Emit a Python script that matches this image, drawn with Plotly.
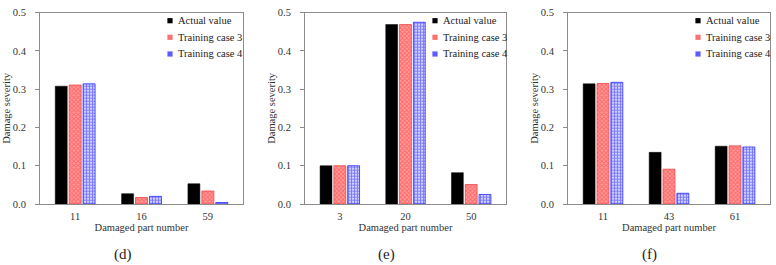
import plotly.graph_objects as go

W, H = 776, 265

# Panel (d)
parts_d = ["11", "16", "59"]
actual_d = [0.308, 0.027, 0.053]
tc3_d = [0.311, 0.017, 0.034]
tc4_d = [0.314, 0.020, 0.004]

# Panel (e)
parts_e = ["3", "20", "50"]
actual_e = [0.100, 0.469, 0.082]
tc3_e = [0.100, 0.469, 0.051]
tc4_e = [0.100, 0.475, 0.025]

# Panel (f)
parts_f = ["11", "43", "61"]
actual_f = [0.314, 0.135, 0.151]
tc3_f = [0.315, 0.091, 0.152]
tc4_f = [0.318, 0.028, 0.149]

series_names = ["Actual value", "Training case 3", "Training case 4"]
panel_labels = ["(d)", "(e)", "(f)"]
y_ticks = [0.0, 0.1, 0.2, 0.3, 0.4, 0.5]

FONT = "Liberation Serif"

panels = [
    (parts_d, [actual_d, tc3_d, tc4_d]),
    (parts_e, [actual_e, tc3_e, tc4_e]),
    (parts_f, [actual_f, tc3_f, tc4_f]),
]

# pixel layout of the three plot areas
x_px = [(40, 243), (305, 506), (568, 770)]
y_top, y_bot = 12.7, 204
legend_text_px = [176, 441, 704]
legend_rows_px = [20.7, 37.3, 54.0]
label_px = [123, 386, 649]

styles = [
    dict(color="black", line=dict(color="black", width=0.5)),
    dict(color="#ff7a7a", line=dict(color="#f04848", width=0.8),
         pattern=dict(shape="x", size=3, fgcolor="#ff3030", bgcolor="#ff9c9c", solidity=0.5)),
    dict(color="#8080ff", line=dict(color="#2a2aff", width=0.8),
         pattern=dict(shape="+", size=3, fgcolor="#1a1aff", bgcolor="#d0d0ff", solidity=0.5)),
]
legend_colors = ["#000000", "#ff6f6f", "#5c5cff"]

fig = go.Figure()
for i, (parts, vals) in enumerate(panels):
    xa = "x" if i == 0 else f"x{i+1}"
    ya = "y" if i == 0 else f"y{i+1}"
    for j, v in enumerate(vals):
        fig.add_trace(go.Bar(
            x=parts, y=v, name=series_names[j], marker=styles[j],
            xaxis=xa, yaxis=ya, showlegend=False,
        ))

axis_common = dict(showline=True, linecolor="#8c8c8c", linewidth=1, mirror=True,
                   showgrid=False, zeroline=False, automargin=False)
layout = dict(
    width=W, height=H, margin=dict(l=0, r=0, t=0, b=0, autoexpand=False),
    paper_bgcolor="white", plot_bgcolor="white",
    barmode="group", bargap=0.37, bargroupgap=0.14,
    font=dict(family=FONT, size=10.5, color="#222222"),
    showlegend=False,
)
ydom = [1 - y_bot / H, 1 - y_top / H]
for i in range(3):
    sx = "" if i == 0 else str(i + 1)
    layout[f"xaxis{sx}"] = dict(
        axis_common, domain=[x_px[i][0] / W, x_px[i][1] / W], anchor=f"y{sx}",
        type="category", range=[-0.53, 2.53], ticks="",
        tickfont=dict(family=FONT, size=10.5, color="#333333"), ticklabelstandoff=2,
        title=dict(text="Damaged part number", standoff=0,
                   font=dict(family=FONT, size=10.5, color="#333333")),
    )
    layout[f"yaxis{sx}"] = dict(
        axis_common, domain=ydom, anchor=f"x{sx}", range=[0, 0.5],
        tickvals=y_ticks, ticktext=[f"{t:.1f}" for t in y_ticks],
        ticks="outside", ticklen=4, tickcolor="#8c8c8c", ticklabelstandoff=7,
        tickfont=dict(family=FONT, size=10.5, color="#333333"),
        title=dict(text="Damage severity", standoff=0,
                   font=dict(family=FONT, size=10.5, color="#333333")),
    )

fig.update_layout(**layout)

# legend (per panel): small squares + text
for i in range(3):
    for j in range(3):
        cy = legend_rows_px[j]
        cx = legend_text_px[i] - 6
        fig.add_shape(type="rect", xref="paper", yref="paper",
                      x0=(cx - 2.6) / W, x1=(cx + 2.6) / W,
                      y0=1 - (cy + 2.6) / H, y1=1 - (cy - 2.6) / H,
                      fillcolor=legend_colors[j], line=dict(width=0))
        fig.add_annotation(text=series_names[j], x=legend_text_px[i] / W, y=1 - cy / H,
                           xref="paper", yref="paper", xanchor="left", yanchor="middle",
                           showarrow=False,
                           font=dict(family=FONT, size=10.5, color="#222222"))

for i in range(3):
    fig.add_annotation(text=panel_labels[i], x=label_px[i] / W, y=1 - 254 / H,
                       xref="paper", yref="paper", xanchor="center", yanchor="middle",
                       showarrow=False,
                       font=dict(family=FONT, size=15, color="#222222"))

fig.write_html("out.html", config={"displayModeBar": False},
               post_script="document.body.style.margin='0px';")
